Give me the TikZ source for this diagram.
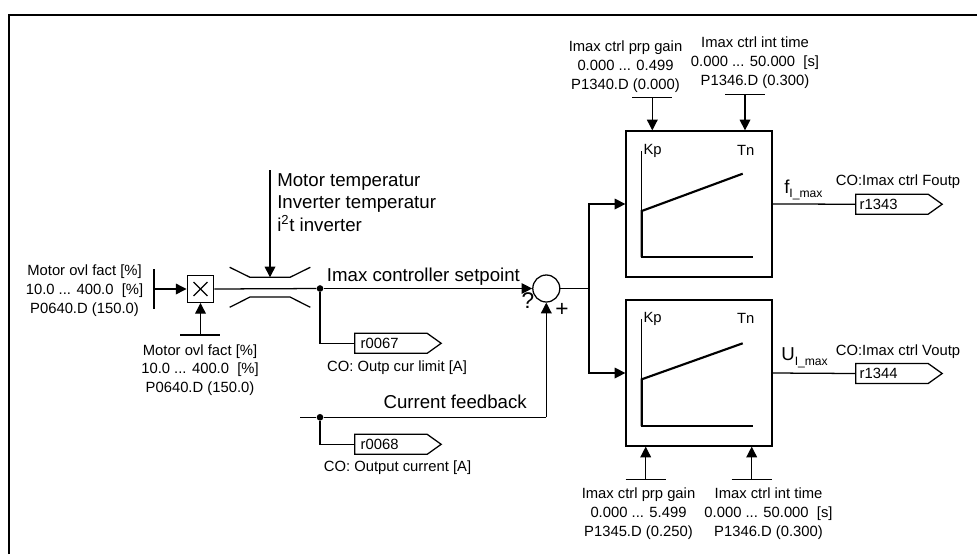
\documentclass[tikz,border=0pt]{standalone}
\usepackage{fontspec}
\usepackage{tikz}
\usepackage{xcolor}
\setmainfont{Liberation Sans}
\usetikzlibrary{arrows.meta,shapes.symbols}
\tikzset{
	wire/.style={line width=0.95pt},
	flow/.style={wire,-{Triangle[length=8pt,width=8pt]}},
	small text/.style={inner sep=0pt,align=center,font=\fontsize{11.1}{14}\selectfont},
	big text/.style={inner sep=0pt,font=\fontsize{14}{17}\selectfont},
	sign text/.style={inner sep=0pt,font=\fontsize{17}{20}\selectfont},
	tag/.style={draw,line width=0.95pt,signal,signal to=east,signal pointer angle=71,minimum height=15pt,minimum width=56pt,inner sep=0pt,anchor=west,font=\fontsize{11.1}{14}\selectfont},
	dot/.style={circle,fill=black,inner sep=0pt,minimum size=5pt},
	block/.style={draw,line width=0.95pt,inner sep=0pt,minimum width=109.5pt,minimum height=109.5pt}
}
\newcommand{\biglabel}[2]{#1{\fontsize{9.1}{11}\selectfont\raisebox{-3.6pt}{#2}}}
\begin{document}
\begin{tikzpicture}[x=0.75pt,y=0.75pt,yscale=-1,xscale=1]
	\useasboundingbox (0,0) rectangle (977,554);
	\draw [line width=1.5pt] (9,554) -- (9,15) -- (977,15);
	% left input and limiter
	\node (mult) [draw,line width=0.95pt,inner sep=0pt,minimum size=20pt] at (200.5,289) {};
	\draw [wire] ([shift={(-5.2pt,-5.2pt)}]mult.center) -- ([shift={(5.2pt,5.2pt)}]mult.center);
	\draw [wire] ([shift={(-5.2pt,5.2pt)}]mult.center) -- ([shift={(5.2pt,-5.2pt)}]mult.center);
	\coordinate (factbar) at (154,289);
	\coordinate (factbarb) at (200.5,335);
	\draw [wire] (154,269) -- (154,309);
	\draw [wire] (180,335) -- (220,335);
	\draw [flow] (factbar) -- (mult.west);
	\draw [flow] (factbarb) -- (mult.south);
	\node (factl) [small text] at (84.5,290.5) {Motor ovl fact [\%]\\10.0 ... 400.0\ \ [\%]\\P0640.D (150.0)};
	\node (factb) [small text] at (200,370) {Motor ovl fact [\%]\\10.0 ... 400.0\ \ [\%]\\P0640.D (150.0)};
	\draw [wire] (229.7,267.3) -- (250,277.3) -- (290,277.3) -- (310.3,267.3);
	\draw [wire] (229.7,307.3) -- (250,297) -- (290,297) -- (310.3,307.3);
	\coordinate (limtop) at (270,170);
	\coordinate (limin) at (270,277.3);
	\draw [flow] (limtop) -- (limin);
	\node (limtxt) [big text,anchor=west,align=left] at (277,202.5) {Motor temperatur\\Inverter temperatur\\i\textsuperscript{2}t inverter};
	% summing point
	\node (setdot) [dot] at (320,288.5) {};
	\node (sumpt) [draw,circle,line width=0.95pt,inner sep=0pt,minimum size=20.25pt] at (546.3,288.5) {};
	\draw [wire] (mult.east) -- (setdot);
	\draw [flow] (setdot) -- (sumpt.west);
	\node (settxt) [big text,anchor=west] at (326.7,277) {Imax controller setpoint};
	\node (qmark) [sign text] at (528,301) {?};
	\node (plus) [sign text] at (562,310) {+};
	\node (curdot) [dot] at (320,417.3) {};
	\coordinate (curin) at (300,417.3);
	\coordinate (curcorner) at (546.3,417.3);
	\draw [wire] (curin) -- (curdot) -- (curcorner);
	\draw [flow] (curcorner) -- (sumpt.south);
	\node (curtxt) [big text,anchor=west] at (383.3,402) {Current feedback};
	% r-parameter outputs
	\node (r67) [tag] at (354,343.3) {\hspace*{4.5pt}r0067\hspace*{21.5pt}};
	\node (r68) [tag] at (354,444.3) {\hspace*{4.5pt}r0068\hspace*{21.5pt}};
	\draw [wire] (setdot) |- (r67.west);
	\draw [wire] (curdot) |- (r68.west);
	\node (r67txt) [small text] at (397,367.5) {CO: Outp cur limit [A]};
	\node (r68txt) [small text] at (397.5,467.7) {CO: Output current [A]};
	% controller blocks
	\node (fblock) [block] at (699,204) {};
	\node (ublock) [block] at (699,373) {};
	\coordinate (branch) at (589,288.5);
	\draw [wire] (sumpt.east) -- (branch);
	\draw [flow] (branch) |- (fblock.west);
	\draw [flow] (branch) |- (ublock.west);
	\draw [wire] (641.7,151) -- (641.7,257) -- (752.7,257);
	\draw [line width=1.6pt] (641.7,257) -- (641.7,211) -- (742.7,173.7);
	\draw [wire] (641.7,319.3) -- (641.7,426) -- (752.7,426);
	\draw [line width=1.6pt] (641.7,426) -- (641.7,379.3) -- (742.7,343.3);
	\node (fkp) [small text,anchor=west] at (643.3,151) {Kp};
	\node (ftn) [small text] at (745.7,150) {Tn};
	\node (ukp) [small text,anchor=west] at (643.3,319.3) {Kp};
	\node (utn) [small text] at (745.7,318.3) {Tn};
	% parameter inputs
	\coordinate (fkpbar) at (652.3,97.7);
	\coordinate (ftnbar) at (745,94.7);
	\coordinate (ukpbar) at (645.7,479.3);
	\coordinate (utnbar) at (751.7,479.3);
	\draw [wire] ([xshift=-15pt]fkpbar) -- ([xshift=15pt]fkpbar);
	\draw [wire] ([xshift=-15pt]ftnbar) -- ([xshift=15pt]ftnbar);
	\draw [wire] ([xshift=-15pt]ukpbar) -- ([xshift=15pt]ukpbar);
	\draw [wire] ([xshift=-15pt]utnbar) -- ([xshift=15pt]utnbar);
	\draw [flow] (fkpbar) -- (fkpbar |- fblock.north);
	\draw [flow] (ftnbar) -- (ftnbar |- fblock.north);
	\draw [flow] (ukpbar) -- (ukpbar |- ublock.south);
	\draw [flow] (utnbar) -- (utnbar |- ublock.south);
	\node (fkptxt) [small text] at (625.5,66.5) {Imax ctrl prp gain\\0.000 ... 0.499\\P1340.D (0.000)};
	\node (ftntxt) [small text] at (755,62.5) {Imax ctrl int time\\0.000 ... 50.000\ \ [s]\\P1346.D (0.300)};
	\node (ukptxt) [small text] at (638.5,513.7) {Imax ctrl prp gain\\0.000 ... 5.499\\P1345.D (0.250)};
	\node (utntxt) [small text] at (768.5,513.7) {Imax ctrl int time\\0.000 ... 50.000\ \ [s]\\P1346.D (0.300)};
	% block outputs
	\node (r43) [tag] at (855,204.2) {\hspace*{3pt}r1343\hspace*{23pt}};
	\node (r44) [tag] at (855,373.5) {\hspace*{3pt}r1344\hspace*{23pt}};
	\draw [wire] (fblock.east) -- (r43.west);
	\draw [wire] (ublock.east) -- (r44.west);
	\node (r43txt) [small text] at (898,181.3) {CO:Imax ctrl Foutp};
	\node (r44txt) [small text] at (898,351.7) {CO:Imax ctrl Voutp};
	\node (fmax) [big text,anchor=west] at (784,190) {\biglabel{f}{I\_max}};
	\node (umax) [big text,anchor=west] at (781,358) {\biglabel{U}{I\_max}};
\end{tikzpicture}
\end{document}
